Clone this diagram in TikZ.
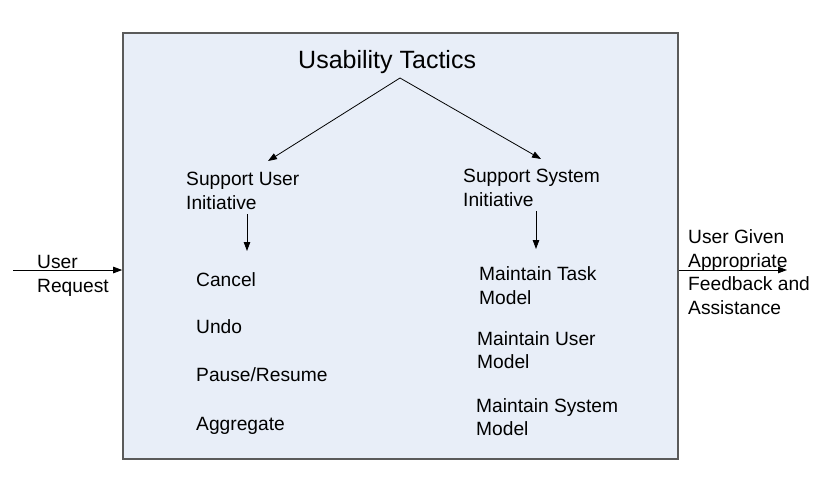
\documentclass[tikz,border=0pt]{standalone}
\usepackage{fontspec}
\setmainfont{Liberation Sans}
\usetikzlibrary{arrows.meta}
\definecolor{boxfill}{HTML}{E8EEF8}
\definecolor{boxline}{HTML}{5A5A5A}
\begin{document}
\begin{tikzpicture}[x=1pt,y=-1pt,
  lbl/.style={anchor=west,inner sep=0pt,align=left,font=\fontsize{19.2}{23.5}\selectfont},
  conn/.style={draw=black,line width=0.8pt,-{Triangle[length=9pt,width=6.5pt]}}]
\useasboundingbox (0,0) rectangle (827,492);
\node[draw=boxline,fill=boxfill,line width=1.6pt,minimum width=555pt,minimum height=426pt,inner sep=0pt] (box) at (400.5,246) {};
\node[anchor=west,inner sep=0pt,font=\fontsize{25}{29}\selectfont] (title) at (298,62) {Usability Tactics};
\node[lbl] (sui) at (186,191) {Support User\\Initiative};
\node[lbl] (ssi) at (463,188) {Support System\\Initiative};
\node[lbl] (cancel) at (196,280) {Cancel};
\node[lbl] (undo) at (196,327) {Undo};
\node[lbl] (pause) at (196,375) {Pause/Resume};
\node[lbl] (aggregate) at (196,426) {Aggregate};
\node[lbl] (mtm) at (479,285.5) {Maintain Task\\Model};
\node[lbl] (mum) at (477,350) {Maintain User\\Model};
\node[lbl] (msm) at (476,417) {Maintain System\\Model};
\node[lbl] (req) at (37,276) {User\\Request};
\node[lbl] (fb) at (688,272) {User Given\\Appropriate\\Feedback and\\Assistance};
\coordinate (apex) at (400,78);
\coordinate (suiT) at (268,161);
\coordinate (ssiT) at (541,159);
\coordinate (suiB) at (247,214);
\coordinate (ssiB) at (536,211);
\coordinate (cancelT) at (247,251);
\coordinate (mtmT) at (536,249);
\coordinate (reqS) at (13,270);
\coordinate (fbE) at (787,270);
\draw[conn] (apex) -- (suiT);
\draw[conn] (apex) -- (ssiT);
\draw[conn] (suiB) -- (cancelT);
\draw[conn] (ssiB) -- (mtmT);
\draw[conn] (reqS) -- (box.west |- reqS);
\draw[conn] (box.east |- fbE) -- (fbE);
\end{tikzpicture}
\end{document}
